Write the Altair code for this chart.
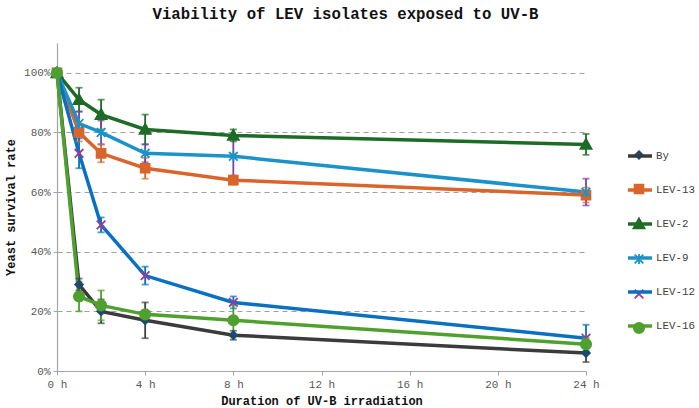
import altair as alt
import pandas as pd

hours = [0, 1, 2, 4, 8, 24]
series = ["By", "LEV-13", "LEV-2", "LEV-9", "LEV-12", "LEV-16"]

by_vals = [100, 29, 20, 17, 12, 6]
by_err = [0, 2, 4, 6, 1.5, 3]
lev13_vals = [100, 80, 73, 68, 64, 59]
lev13_err = [0, 3, 3, 3.5, 1.5, 2.5]
lev2_vals = [100, 91, 86, 81, 79, 76]
lev2_err = [0, 4, 5, 5, 2, 3.5]
lev9_vals = [100, 83, 80, 73, 72, 60]
lev9_err = [0, 4, 4, 3, 6.5, 4.5]
lev12_vals = [100, 73, 49, 32, 23, 11]
lev12_err = [0, 5, 2.5, 3, 2, 4.5]
lev16_vals = [100, 25, 22, 19, 17, 9]
lev16_err = [0, 5, 5, 1, 5, 2]

x_ticks = [0, 4, 8, 12, 16, 20, 24]
y_ticks = [0, 0.2, 0.4, 0.6, 0.8, 1.0]

all_vals = [by_vals, lev13_vals, lev2_vals, lev9_vals, lev12_vals, lev16_vals]
all_errs = [by_err, lev13_err, lev2_err, lev9_err, lev12_err, lev16_err]

rows = []
for s, vals, errs in zip(series, all_vals, all_errs):
    for h, v, e in zip(hours, vals, errs):
        rows.append({"series": s, "hour": h, "value": v / 100.0,
                     "lo": (v - e) / 100.0, "hi": (v + e) / 100.0, "has_err": e > 0})
df = pd.DataFrame(rows)

line_colors = ["#3b3b3b", "#d9652b", "#1d6b27", "#1b93c9", "#0a70c2", "#4fa02e"]
marker_colors = ["#1f4a70", "#d9652b", "#1d6b27", "#1b93c9", "#9b3a9b", "#4fa02e"]
err_colors = ["#404040", "#d9652b", "#1d6b27", "#7a3fb0", "#0a70c2", "#4fa02e"]
marker_paths = [
    "M0,-0.32L0.32,0L0,0.32L-0.32,0Z",
    "M-0.37,-0.37L0.37,-0.37L0.37,0.37L-0.37,0.37Z",
    "M0,-0.46L0.46,0.37L-0.46,0.37Z",
    "M-0.36,-0.36L0.36,0.36M-0.36,0.36L0.36,-0.36M0,-0.42L0,0.42",
    "M-0.36,-0.36L0.36,0.36M-0.36,0.36L0.36,-0.36",
    "M0.43,0A0.43,0.43,0,1,1,-0.43,0A0.43,0.43,0,1,1,0.43,0Z",
]

FONT = "Liberation Mono"
S = 576
LX, LY = 569, 99
RP = 13

x_enc = alt.X("hour:Q",
              scale=alt.Scale(domain=[0, 24], nice=False, zero=False),
              axis=alt.Axis(values=x_ticks, labelExpr="datum.value + ' h'",
                            title="Duration of UV-B irradiation", grid=False,
                            labelFlush=False))
yaxis = alt.Axis(values=y_ticks, format="%", title="Yeast survival rate",
                 grid=True, gridDash=[5, 4], gridColor="#a0a0a0", gridWidth=1.2)
yscale = alt.Scale(domain=[0, 1.1], nice=False)

base = alt.Chart(df)

lines = base.mark_line(strokeWidth=3.5).encode(
    x=x_enc,
    y=alt.Y("value:Q", scale=yscale, axis=yaxis),
    color=alt.Color("series:N", scale=alt.Scale(domain=series, range=line_colors),
                    legend=alt.Legend(title=None, orient="none", legendX=LX, legendY=LY,
                                      symbolType="M-1,0L1,0", symbolSize=S,
                                      symbolStrokeWidth=3.5, rowPadding=RP,
                                      labelFont=FONT, labelFontSize=10.8,
                                      labelColor="#404040", labelOffset=2)),
    detail="series:N",
)

errbase = base.transform_filter("datum.has_err")
ecolor = alt.Color("series:N", scale=alt.Scale(domain=series, range=err_colors), legend=None)
rules = errbase.mark_rule(strokeWidth=1.8).encode(
    x=x_enc,
    y=alt.Y("lo:Q", scale=yscale, axis=yaxis),
    y2="hi:Q",
    color=ecolor,
)
caps_lo = errbase.mark_tick(orient="horizontal", size=7, thickness=1.8).encode(
    x=x_enc, y=alt.Y("lo:Q", scale=yscale, axis=yaxis), color=ecolor)
caps_hi = errbase.mark_tick(orient="horizontal", size=7, thickness=1.8).encode(
    x=x_enc, y=alt.Y("hi:Q", scale=yscale, axis=yaxis), color=ecolor)

rdom = series[::-1]
mleg = alt.Legend(title=None, orient="none", legendX=LX, legendY=LY, values=series,
                  symbolSize=S, symbolStrokeWidth=1.8, rowPadding=RP,
                  labelFont=FONT, labelFontSize=10.8, labelOpacity=0, labelOffset=2,
                  labelExpr="''")
points = base.mark_point(opacity=1, fillOpacity=1, strokeWidth=1.8, size=S).encode(
    x=x_enc,
    y=alt.Y("value:Q", scale=yscale, axis=yaxis),
    fill=alt.Fill("series:N", scale=alt.Scale(domain=rdom, range=marker_colors[::-1]), legend=mleg),
    stroke=alt.Stroke("series:N", scale=alt.Scale(domain=rdom, range=marker_colors[::-1]), legend=mleg),
    shape=alt.Shape("series:N", scale=alt.Scale(domain=rdom, range=marker_paths[::-1]), legend=mleg),
)

chart = alt.layer(lines, rules, caps_lo, caps_hi, points).resolve_scale(
    color="independent"
).properties(
    width=529, height=328,
    title=alt.TitleParams("Viability of LEV isolates exposed to UV-B", font=FONT,
                          fontSize=15.7, fontWeight="bold", color="#111111",
                          anchor="middle", dx=24, offset=20),
    autosize=alt.AutoSizeParams(type="none"),
    padding={"left": 57, "top": 43, "right": 113, "bottom": 37},
).configure_view(stroke=None).configure_axis(
    labelFont=FONT, labelFontSize=11, labelColor="#595959",
    titleFont=FONT, titleFontSize=12, titleFontWeight="bold", titleColor="#111111",
    domainColor="#a6a6a6", domainWidth=1.2, tickColor="#a6a6a6", tickSize=4,
).configure_axisX(labelPadding=3, titlePadding=6).configure_axisY(
    labelPadding=3, titlePadding=6
)

chart.save("out.html", embed_options={"renderer": "svg", "actions": False})
